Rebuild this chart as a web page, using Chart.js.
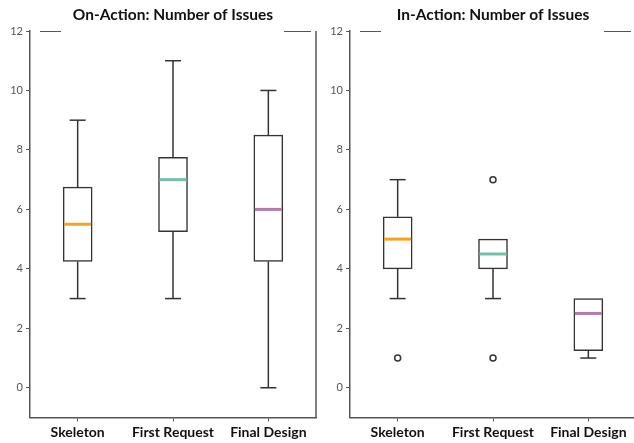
<!DOCTYPE html>
<html>
<head>
<meta charset="utf-8">
<script src="https://cdn.jsdelivr.net/npm/chart.js@4.4.1/dist/chart.umd.min.js"></script>
<style>
  html, body { margin: 0; padding: 0; background: #fff; }
  body { width: 634px; height: 443px; overflow: hidden; position: relative; }
  .panel { position: absolute; top: 0; height: 443px; }
  #onWrap { left: 0; width: 346px; }
  #inWrap { left: 318px; width: 350px; }
</style>
</head>
<body>
<div class="panel" id="onWrap"><canvas id="onChart"></canvas></div>
<div class="panel" id="inWrap"><canvas id="inChart"></canvas></div>
<script>
// categories and box statistics
const categories = ["Skeleton", "First Request", "Final Design"];
const yTicks = [0, 2, 4, 6, 8, 10, 12];
const medianColors = ["#f5a21f", "#74bfab", "#b77aa8"];

const onMin = [3, 3, 0];
const onQ1 = [4.25, 5.25, 4.25];
const onMedian = [5.5, 7, 6];
const onQ3 = [6.75, 7.75, 8.5];
const onMax = [9, 11, 10];
const onOutliers = [[], [], []];

const inMin = [3, 3, 1];
const inQ1 = [4, 4, 1.25];
const inMedian = [5, 4.5, 2.5];
const inQ3 = [5.75, 5, 3];
const inMax = [7, 5, 3];
const inOutliers = [[1], [7, 1], []];

const edgeColor = "#333";
const frameColor = "#555";

// whiskers, caps, medians and the frame pieces
const boxParts = {
    id: "boxParts",
    beforeDatasetsDraw(chart) {
        const o = chart.options.plugins.boxParts;
        const { ctx, scales: { x, y } } = chart;
        ctx.save();
        ctx.strokeStyle = edgeColor;
        ctx.lineWidth = 1.5;
        o.min.forEach((lo, i) => {
            const cx = x.getPixelForValue(i);
            const pairs = [[o.q1[i], lo], [o.q3[i], o.max[i]]];
            pairs.forEach(([a, b]) => {
                if (a === b) return;
                ctx.beginPath();
                ctx.moveTo(cx, y.getPixelForValue(a));
                ctx.lineTo(cx, y.getPixelForValue(b));
                ctx.stroke();
                ctx.beginPath();
                ctx.moveTo(cx - 8, y.getPixelForValue(b));
                ctx.lineTo(cx + 8, y.getPixelForValue(b));
                ctx.stroke();
            });
        });
        ctx.restore();
    },
    afterDatasetsDraw(chart) {
        const o = chart.options.plugins.boxParts;
        const { ctx, scales: { y }, chartArea } = chart;
        const bars = chart.getDatasetMeta(0).data;
        ctx.save();
        ctx.lineWidth = 3;
        o.median.forEach((m, i) => {
            const bar = bars[i];
            const py = y.getPixelForValue(m);
            ctx.strokeStyle = medianColors[i];
            ctx.beginPath();
            ctx.moveTo(bar.x - bar.width / 2 + 1, py);
            ctx.lineTo(bar.x + bar.width / 2 - 1, py);
            ctx.stroke();
        });

        // frame: right side and the broken top line
        ctx.strokeStyle = frameColor;
        ctx.lineWidth = 1.5;
        ctx.beginPath();
        ctx.moveTo(chartArea.right, chartArea.top);
        ctx.lineTo(chartArea.right, chartArea.bottom);
        ctx.stroke();
        ctx.lineWidth = 1;
        ctx.beginPath();
        ctx.moveTo(chartArea.left + 10, chartArea.top + 0.5);
        ctx.lineTo(chartArea.left + 31, chartArea.top + 0.5);
        ctx.moveTo(chartArea.right - 32, chartArea.top + 0.5);
        ctx.lineTo(chartArea.right - 5, chartArea.top + 0.5);
        ctx.stroke();
        ctx.restore();
    }
};

function buildChart(canvasId, title, lo, q1, med, q3, hi, outliers, yWidth) {
    const outlierPoints = [];
    outliers.forEach((list, i) => {
        list.forEach((v) => outlierPoints.push({ x: categories[i], y: v }));
    });

    return new Chart(document.getElementById(canvasId), {
        type: "bar",
        data: {
            labels: categories,
            datasets: [{
                label: "box",
                data: q1.map((v, i) => [v, q3[i]]),
                backgroundColor: "#fff",
                borderColor: edgeColor,
                borderWidth: 1.5,
                borderSkipped: false,
                barThickness: 29
            }, {
                type: "scatter",
                label: "outliers",
                data: outlierPoints,
                pointRadius: 3,
                pointBorderWidth: 1.5,
                pointBackgroundColor: "#fff",
                pointBorderColor: edgeColor
            }]
        },
        options: {
            responsive: false,
            animation: false,
            devicePixelRatio: 1,
            layout: { padding: 0 },
            plugins: {
                legend: { display: false },
                tooltip: { enabled: false },
                title: {
                    display: true,
                    text: title,
                    color: "#111",
                    font: { family: "Lato", size: 15.5, weight: "bold", lineHeight: 1.2 },
                    padding: { top: 5.4, bottom: 7 }
                },
                boxParts: { min: lo, q1: q1, median: med, q3: q3, max: hi }
            },
            scales: {
                x: {
                    type: "category",
                    grid: { display: true, drawOnChartArea: false, offset: false, tickLength: 4, color: frameColor },
                    border: { display: true, color: frameColor, width: 1.5 },
                    ticks: { color: "#111", padding: 3, font: { family: "Lato", size: 14, weight: "bold" } },
                    afterFit: (s) => { s.height = 25.5; }
                },
                y: {
                    min: -1,
                    max: 12,
                    afterBuildTicks: (s) => { s.ticks = yTicks.map((v) => ({ value: v })); },
                    grid: { display: true, drawOnChartArea: false, tickLength: 4, color: frameColor },
                    border: { display: true, color: frameColor, width: 1.5 },
                    ticks: { color: "#555", padding: 3, font: { family: "Lato", size: 11 } },
                    afterFit: (s) => { s.width = yWidth; }
                },
                // empty right-hand axis so the title sits over the plot centre
                yRight: {
                    position: "right",
                    min: -1,
                    max: 12,
                    grid: { display: false },
                    border: { display: false },
                    ticks: { display: false },
                    afterFit: (s) => { s.width = yWidth; }
                }
            }
        },
        plugins: [boxParts]
    });
}

function sizeCanvas(id, w) {
    const c = document.getElementById(id);
    c.width = w;
    c.height = 443;
    c.style.width = w + "px";
    c.style.height = "443px";
}

sizeCanvas("onChart", 346);
sizeCanvas("inChart", 350);
buildChart("onChart", "On-Action: Number of Issues", onMin, onQ1, onMedian, onQ3, onMax, onOutliers, 30);
buildChart("inChart", "In-Action: Number of Issues", inMin, inQ1, inMedian, inQ3, inMax, inOutliers, 32);
</script>
</body>
</html>
